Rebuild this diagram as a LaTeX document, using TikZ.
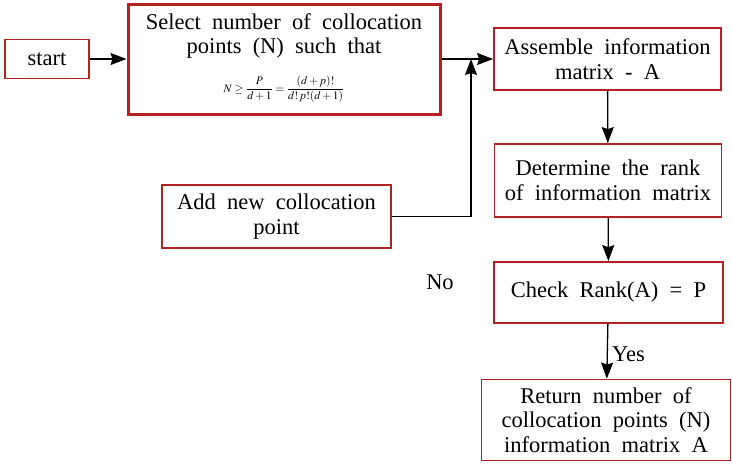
\documentclass[tikz,border=0pt]{standalone}
\usepackage{mathptmx}
\usepackage{fontspec}
\setmainfont{Liberation Serif}[WordSpace=2]
\usetikzlibrary{arrows.meta}
\definecolor{boxred}{RGB}{178,34,34}
\tikzset{
  flowbox/.style={draw=boxred, line width=1.8pt, align=center, inner sep=2pt,
    font=\fontsize{22.5}{24.5}\selectfont},
  bigbox/.style={draw=boxred, line width=3pt},
  arr/.style={-{Stealth[length=16pt,width=12pt,inset=2pt]}, line width=1.3pt},
  lbl/.style={font=\fontsize{22.5}{24.5}\selectfont, inner sep=0pt, align=center}
}
\begin{document}
\begin{tikzpicture}[x=1pt,y=-1pt]
\useasboundingbox (0,0) rectangle (732,464);
% process boxes
\node[flowbox, line width=1.1pt, minimum width=84pt, minimum height=39pt] (start) at (47,59) {start};
\node[bigbox, minimum width=312pt, minimum height=110pt] (sel) at (284,59) {};
\node[lbl, anchor=north] (seltext) at (284,13)
  {Select number of collocation\\points (N) such that\\[14pt]
   {\fontsize{11.5}{13}\selectfont$\displaystyle N \ge \frac{P}{d+1} = \frac{(d+p)!}{d!\,p!(d+1)}$}};
\node[flowbox, minimum width=227pt, minimum height=62pt] (asm) at (607.5,59)
  {Assemble information\\matrix - A};
\node[flowbox, minimum width=227pt, minimum height=73pt] (det) at (608,180.5)
  {Determine the rank\\of information matrix};
\node[flowbox, minimum width=229pt, minimum height=61pt] (chk) at (608.5,292.5)
  {Check Rank(A) = P};
\node[flowbox, minimum width=249pt, minimum height=81pt] (ret) at (606,420)
  {Return number of\\collocation points (N)\\information matrix A};
\node[flowbox, minimum width=229pt, minimum height=63pt] (add) at (276.5,216.5)
  {Add new collocation\\point};
% labels
\node[lbl] (no) at (440,282) {No};
\node[lbl, anchor=west] (yes) at (612,354) {Yes};
% connectors
\coordinate (j) at (471,59);
\draw[arr] (start) -- (sel);
\draw[arr] (sel) -- (asm);
\draw[arr] (add.east) -| (j);
\draw[arr] (asm) -- (det);
\draw[arr] (det) -- (chk);
\draw[arr] (chk) -- (ret);
\end{tikzpicture}
\end{document}
